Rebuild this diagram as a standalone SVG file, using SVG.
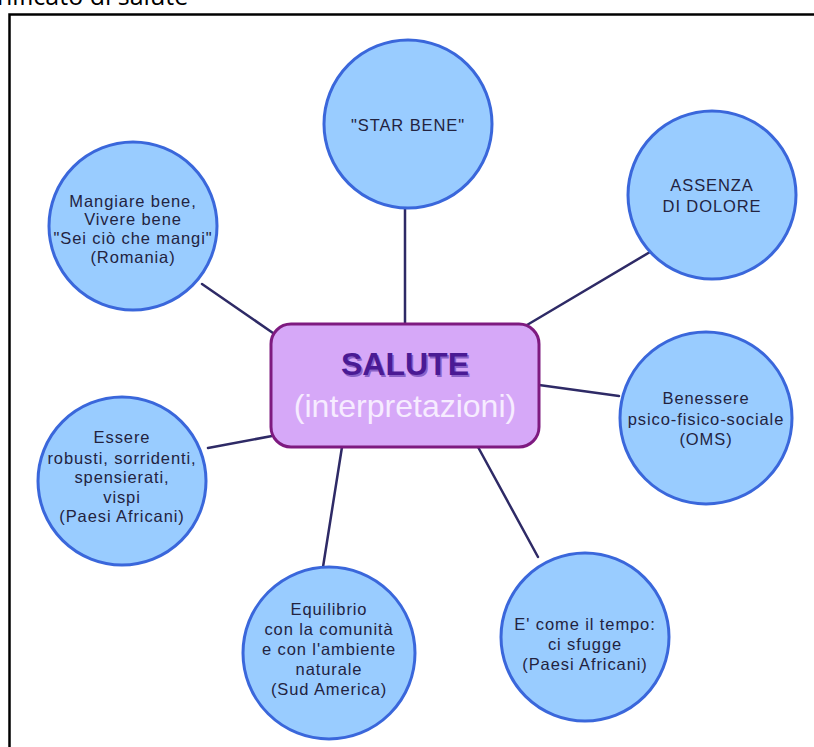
<svg xmlns="http://www.w3.org/2000/svg" width="814" height="747" viewBox="0 0 814 747">
<style>
.node circle{fill:#99CCFF;stroke:#3A67DB;stroke-width:3}
.node text{font-family:"Liberation Sans",Arial,sans-serif;font-size:16.5px;letter-spacing:0.9px;fill:#23233F;text-anchor:middle}
.conn line{stroke:#2E2A66;stroke-width:2.5;stroke-linecap:round}
</style>
<rect width="814" height="747" fill="#FFFFFF"/>
<text x="-3" y="5" font-family="'Open Sans','Noto Sans',sans-serif" font-size="25" fill="#000">nificato di salute</text>
<rect x="9.5" y="14.5" width="820" height="740" fill="none" stroke="#000" stroke-width="2.5"/>
<g id="connectors" class="conn">
<line x1="405" y1="208" x2="405" y2="324"/>
<line x1="527" y1="325" x2="650" y2="252"/>
<line x1="202" y1="284" x2="273" y2="333"/>
<line x1="539" y1="385" x2="619" y2="396"/>
<line x1="208" y1="448" x2="272" y2="436"/>
<line x1="342" y1="447" x2="323" y2="567"/>
<line x1="478" y1="447" x2="538" y2="557"/>
</g>
<g id="center">
<rect x="271" y="324" width="268" height="123" rx="20" ry="20" fill="#D6A8F8" stroke="#7E1A80" stroke-width="3"/>
<text x="406.5" y="376.5" font-family="'Liberation Sans',Arial,sans-serif" font-size="32" font-weight="bold" fill="#8A62C8" text-anchor="middle">SALUTE</text>
<text x="405" y="375" font-family="'Liberation Sans',Arial,sans-serif" font-size="32" font-weight="bold" fill="#4A1A94" text-anchor="middle">SALUTE</text>
<text x="405" y="417" font-family="'Liberation Sans',Arial,sans-serif" font-size="32" fill="#F6ECFF" text-anchor="middle">(interpretazioni)</text>
</g>
<g id="star-bene" class="node">
<circle cx="408" cy="124" r="84"/>
<text x="408" y="131">"STAR BENE"</text>
</g>
<g id="assenza" class="node">
<circle cx="712" cy="195" r="84"/>
<text x="712" y="191">ASSENZA</text>
<text x="712" y="212">DI DOLORE</text>
</g>
<g id="mangiare" class="node">
<circle cx="133" cy="226" r="84"/>
<text x="133" y="207">Mangiare bene,</text>
<text x="133" y="225">Vivere bene</text>
<text x="133" y="244">"Sei ciò che mangi"</text>
<text x="133" y="263">(Romania)</text>
</g>
<g id="benessere" class="node">
<circle cx="706" cy="418" r="86"/>
<text x="706" y="404">Benessere</text>
<text x="706" y="425">psico-fisico-sociale</text>
<text x="706" y="445">(OMS)</text>
</g>
<g id="essere" class="node">
<circle cx="122" cy="481" r="84"/>
<text x="122" y="443">Essere</text>
<text x="122" y="464">robusti, sorridenti,</text>
<text x="122" y="483">spensierati,</text>
<text x="122" y="503">vispi</text>
<text x="122" y="522">(Paesi Africani)</text>
</g>
<g id="equilibrio" class="node">
<circle cx="329" cy="653" r="86"/>
<text x="329" y="615">Equilibrio</text>
<text x="329" y="635">con la comunità</text>
<text x="329" y="655">e con l'ambiente</text>
<text x="329" y="675">naturale</text>
<text x="329" y="695">(Sud America)</text>
</g>
<g id="tempo" class="node">
<circle cx="585" cy="637" r="84"/>
<text x="585" y="630">E' come il tempo:</text>
<text x="585" y="650">ci sfugge</text>
<text x="585" y="670">(Paesi Africani)</text>
</g>
</svg>
